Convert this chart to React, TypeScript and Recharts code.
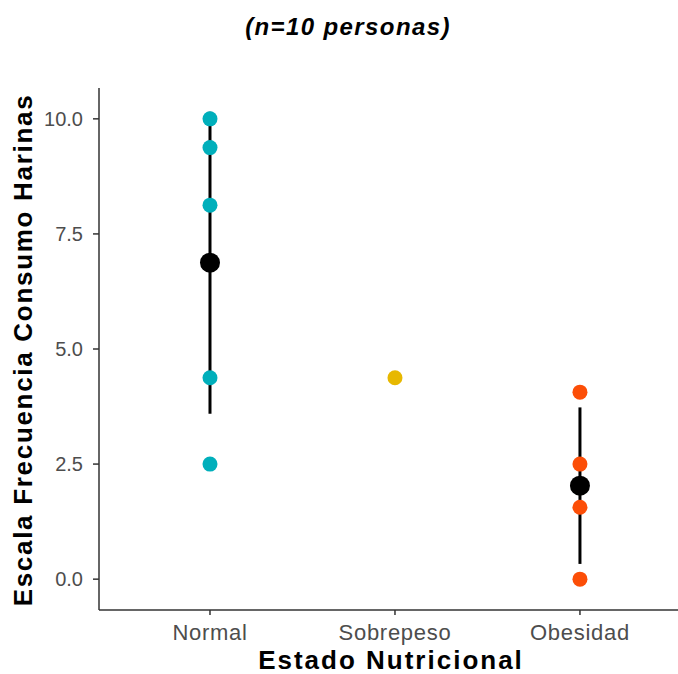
import React from "react";
import { ComposedChart, Scatter, XAxis, YAxis, ErrorBar } from "recharts";

// estado nutricional groups (x position 1..3)
const categories = ["Normal", "Sobrepeso", "Obesidad"];
const groupColors = ["#00AFBB", "#E7B800", "#FC4E07"];

// individual scores per group
const normalScores = [10, 9.375, 8.125, 4.375, 2.5];
const sobrepesoScores = [4.375];
const obesidadScores = [4.0625, 2.5, 1.5625, 0];

// mean and standard deviation per group (sobrepeso has n=1, no sd)
const groupMeans = [6.875, 2.03125];
const groupSd = [3.28, 1.7];
const meanPositions = [1, 3];

const yTicks = [0, 2.5, 5, 7.5, 10];

const toPoints = (scores: number[], x: number) => scores.map((y) => ({ x, y }));

const normalData = toPoints(normalScores, 1);
const sobrepesoData = toPoints(sobrepesoScores, 2);
const obesidadData = toPoints(obesidadScores, 3);
const meanData = meanPositions.map((x, i) => ({ x, y: groupMeans[i], sd: groupSd[i] }));

const FONT = "'Liberation Sans', Arial, sans-serif";

const Dot = (r: number, fill: string) => (props: any) => {
  const { cx, cy } = props;
  if (cx == null || cy == null) return <g />;
  return <circle cx={cx} cy={cy} r={r} fill={fill} />;
};

export default function App() {
  return (
    <div style={{ position: "absolute", left: 0, top: 0, width: 678, height: 674, background: "#fff", fontFamily: FONT }}>
      <ComposedChart width={678} height={674} margin={{ top: 88, right: 0, bottom: 24, left: 0 }}>
        <XAxis
          type="number"
          dataKey="x"
          height={40}
          domain={[0.4, 3.53]}
          ticks={[1, 2, 3]}
          tickFormatter={(v: number) => categories[v - 1]}
          allowDataOverflow
          axisLine={{ stroke: "#333333", strokeWidth: 1.5 }}
          tickLine={{ stroke: "#333333", strokeWidth: 1.5 }}
          tickSize={5}
          tickMargin={9}
          tick={{ fill: "#4D4D4D", fontSize: 22, fontFamily: FONT, letterSpacing: 0.7 }}
        />
        <YAxis
          type="number"
          dataKey="y"
          width={99}
          domain={[-0.67, 10.67]}
          ticks={yTicks}
          tickFormatter={(v: number) => v.toFixed(1)}
          allowDataOverflow
          axisLine={{ stroke: "#333333", strokeWidth: 1.5 }}
          tickLine={{ stroke: "#333333", strokeWidth: 1.5 }}
          tickSize={6}
          tickMargin={10}
          tick={{ fill: "#4D4D4D", fontSize: 20, fontFamily: FONT }}
        />
        <Scatter data={normalData} dataKey="y" shape={Dot(7.5, groupColors[0])} isAnimationActive={false} />
        <Scatter data={sobrepesoData} dataKey="y" shape={Dot(7.5, groupColors[1])} isAnimationActive={false} />
        <Scatter data={obesidadData} dataKey="y" shape={Dot(7.5, groupColors[2])} isAnimationActive={false} />
        <Scatter data={meanData} dataKey="y" shape={Dot(10, "#000000")} isAnimationActive={false}>
          <ErrorBar dataKey="sd" direction="y" width={0} stroke="#000000" strokeWidth={3} isAnimationActive={false} />
        </Scatter>
      </ComposedChart>
      <div
        style={{
          position: "absolute",
          left: 0,
          width: 678,
          paddingLeft: 18,
          boxSizing: "border-box",
          top: 13,
          textAlign: "center",
          fontSize: 24,
          lineHeight: "normal",
          fontWeight: "bold",
          fontStyle: "italic",
          letterSpacing: 1.4,
          color: "#000",
        }}
      >
        (n=10 personas)
      </div>
      <div
        style={{
          position: "absolute",
          left: 0,
          width: 678,
          paddingLeft: 104,
          boxSizing: "border-box",
          top: 645,
          textAlign: "center",
          fontSize: 26,
          lineHeight: "normal",
          fontWeight: "bold",
          letterSpacing: 2,
          color: "#000",
        }}
      >
        Estado Nutricional
      </div>
      <div
        style={{
          position: "absolute",
          left: 23,
          top: 350,
          transform: "translate(-50%, -50%) rotate(-90deg)",
          whiteSpace: "nowrap",
          fontSize: 26,
          lineHeight: "normal",
          fontWeight: "bold",
          letterSpacing: 1.7,
          color: "#000",
        }}
      >
        Escala Frecuencia Consumo Harinas
      </div>
    </div>
  );
}
